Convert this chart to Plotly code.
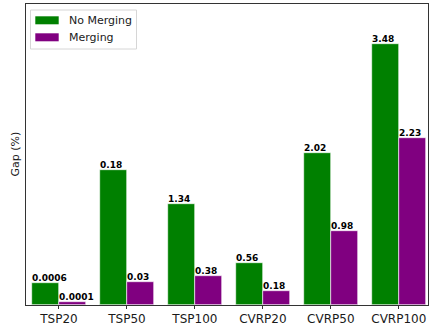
import plotly.graph_objects as go

# Problem instances on the x axis
categories = ["TSP20", "TSP50", "TSP100", "CVRP20", "CVRP50", "CVRP100"]

# Plotted bar heights (Gap %)
no_merging = [0.29, 1.8, 1.34, 0.56, 2.02, 3.48]
merging = [0.04, 0.3, 0.38, 0.18, 0.98, 2.23]

# Value labels printed above each bar
no_merging_labels = ["0.0006", "0.18", "1.34", "0.56", "2.02", "3.48"]
merging_labels = ["0.0001", "0.03", "0.38", "0.18", "0.98", "2.23"]

series_names = ["No Merging", "Merging"]
series_colors = ["#008000", "#800080"]

W, H = 429, 326
M_L, M_R, M_T, M_B = 26, 1, 4, 21
PW, PH = W - M_L - M_R, H - M_T - M_B


def px_x(p):
    return (p - M_L) / PW


def px_y(p):
    return (H - M_B - p) / PH


bar_w = 0.4
idx = list(range(len(categories)))

fig = go.Figure()
for name, color, vals, off in ((series_names[0], series_colors[0], no_merging, -bar_w / 2),
                               (series_names[1], series_colors[1], merging, bar_w / 2)):
    fig.add_trace(go.Bar(
        x=[i + off for i in idx], y=vals, width=bar_w, name=name, showlegend=False,
        marker=dict(color=color, line=dict(color="white", width=0.6)),
    ))

annotations = []
for i in idx:
    for offset, vals, labels in ((-bar_w, no_merging, no_merging_labels),
                                 (0.0, merging, merging_labels)):
        annotations.append(dict(
            x=i + offset, y=vals[i], text=f"<b>{labels[i]}</b>",
            xref="x", yref="y", xanchor="left", yanchor="bottom",
            showarrow=False, xshift=-2, yshift=-2,
            font=dict(family="DejaVu Sans", size=9, color="black"),
        ))
annotations.append(dict(
    x=px_x(15), y=0.5, xref="paper", yref="paper", text="Gap (%)", textangle=-90,
    showarrow=False, xanchor="center", yanchor="middle",
    font=dict(family="DejaVu Sans", size=11, color="#1a1a1a"),
))

# Legend box with wide colour patches
shapes = [dict(
    type="rect", xref="paper", yref="paper",
    x0=px_x(30.5), x1=px_x(136.5), y0=px_y(49), y1=px_y(10),
    line=dict(color="#d6d6d6", width=1), fillcolor="rgba(255,255,255,0.85)",
)]
for k, (name, color) in enumerate(zip(series_names, series_colors)):
    top = 16.3 + 17 * k
    shapes.append(dict(
        type="rect", xref="paper", yref="paper",
        x0=px_x(35.3), x1=px_x(58.7), y0=px_y(top + 8), y1=px_y(top),
        line=dict(width=0), fillcolor=color,
    ))
    annotations.append(dict(
        x=px_x(66.5), y=px_y(top + 4), xref="paper", yref="paper", text=name,
        showarrow=False, xanchor="left", yanchor="middle",
        font=dict(family="DejaVu Sans", size=11, color="#1a1a1a"),
    ))

fig.update_layout(
    width=W, height=H,
    margin=dict(l=M_L, r=M_R, t=M_T, b=M_B),
    paper_bgcolor="white", plot_bgcolor="white",
    barmode="overlay", bargap=0,
    font=dict(family="DejaVu Sans", size=11, color="#1a1a1a"),
    showlegend=False,
    xaxis=dict(
        tickmode="array", tickvals=idx, ticktext=categories,
        range=[-0.485, 5.43], showgrid=False, zeroline=False,
        showline=True, linecolor="#333", linewidth=1, mirror=True,
        ticks="outside", ticklen=3, tickcolor="#333",
        tickfont=dict(family="DejaVu Sans", size=12, color="#1a1a1a"),
    ),
    yaxis=dict(
        range=[0, 4.01], showgrid=False, zeroline=False,
        showticklabels=False, ticks="",
        showline=True, linecolor="#333", linewidth=1, mirror=True,
    ),
    shapes=shapes,
    annotations=annotations,
)

fig.write_html("out.html")
